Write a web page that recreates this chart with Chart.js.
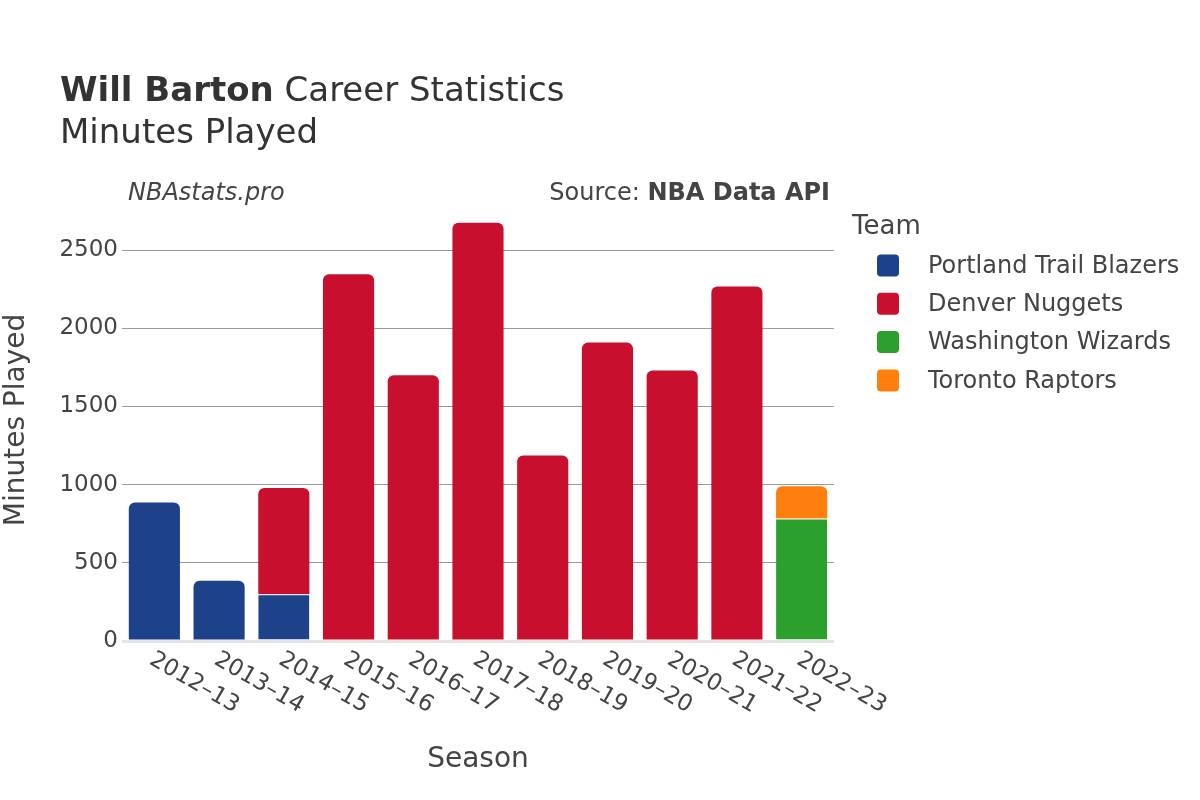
<!DOCTYPE html>
<html>
<head>
<meta charset="utf-8">
<script src="https://cdn.jsdelivr.net/npm/chart.js@4.4.1/dist/chart.umd.min.js"></script>
<style>
  html, body { margin: 0; padding: 0; background: #fff; }
  #wrap { width: 1200px; height: 800px; }
</style>
</head>
<body>
<div id="wrap"><canvas id="chart" width="1200" height="800"></canvas></div>
<script>
const seasons = ["2012–13", "2013–14", "2014–15", "2015–16", "2016–17", "2017–18",
  "2018–19", "2019–20", "2020–21", "2021–22", "2022–23"];
const portland = [886, 385, 299, null, null, null, null, null, null, null, null];
const denver = [null, null, 680, 2346, 1699, 2675, 1186, 1908, 1729, 2267, null];
const washington = [null, null, null, null, null, null, null, null, null, null, 784];
const toronto = [null, null, null, null, null, null, null, null, null, null, 205];
const teams = ["Portland Trail Blazers", "Denver Nuggets", "Washington Wizards", "Toronto Raptors"];
const teamColors = ["#1d428a", "#c8102e", "#2ca02c", "#ff7f0e"];
const yTicks = [0, 500, 1000, 1500, 2000, 2500];

const FONT = "'DejaVu Sans', sans-serif";
const TEXT = "#444";

// titles, source line, legend, rotated season labels
const decorations = {
  id: "decorations",
  afterDraw(chart) {
    const c = chart.ctx;
    const xs = chart.scales.x;
    c.save();
    c.fillStyle = "#333";
    c.textBaseline = "alphabetic";
    c.textAlign = "left";
    c.font = "bold 34px " + FONT;
    c.fillText("Will Barton", 60, 101);
    const w = c.measureText("Will Barton").width;
    c.font = "34px " + FONT;
    c.fillText(" Career Statistics", 60 + w, 101);
    c.fillText("Minutes Played", 60, 143);

    c.fillStyle = TEXT;
    c.font = "italic 24px " + FONT;
    c.fillText("NBAstats.pro", 128, 200);
    c.textAlign = "right";
    c.font = "bold 24px " + FONT;
    c.fillText("NBA Data API", 830, 200);
    const bw = c.measureText("NBA Data API").width;
    c.font = "24px " + FONT;
    c.fillText("Source: ", 830 - bw, 200);

    // axis titles
    c.textAlign = "center";
    c.textBaseline = "middle";
    c.font = "28px " + FONT;
    c.fillText("Season", 478, 760);
    c.save();
    c.translate(17, 420);
    c.rotate(-Math.PI / 2);
    c.fillText("Minutes Played", 0, 0);
    c.restore();

    // season labels
    c.font = "23px " + FONT;
    c.textAlign = "left";
    c.textBaseline = "top";
    seasons.forEach((s, i) => {
      const x = xs.getPixelForTick(i);
      c.save();
      c.translate(x + 6, 650);
      c.rotate(Math.PI / 6);
      c.fillText(s, -4, 0);
      c.restore();
    });

    // legend
    c.textAlign = "left";
    c.textBaseline = "middle";
    c.font = "26px " + FONT;
    c.fillText("Team", 852, 227);
    c.font = "24px " + FONT;
    teams.forEach((t, i) => {
      const y = 265.5 + i * 38.3;
      c.fillStyle = teamColors[i];
      c.beginPath();
      c.roundRect(877, y - 11, 22, 22, 4);
      c.fill();
      c.fillStyle = TEXT;
      c.fillText(t, 928, y + 1);
    });
    c.restore();
  }
};

const series = [portland, denver, washington, toronto];

// white separator only where another segment sits on top
function sepWidth(ctx) {
  const above = series.slice(ctx.datasetIndex + 1).some((s) => s[ctx.dataIndex] != null);
  return { top: above ? 1 : 0, left: 0, right: 0, bottom: 0 };
}

const datasets = series.map((d, i) => ({
  label: teams[i],
  data: d,
  backgroundColor: teamColors[i],
  borderColor: "#fff",
  borderWidth: sepWidth,
  borderRadius: 6,
  borderSkipped: "start",
  barPercentage: 0.79,
  categoryPercentage: 1.0
}));

new Chart(document.getElementById("chart"), {
  type: "bar",
  data: { labels: seasons, datasets: datasets },
  plugins: [decorations],
  options: {
    responsive: false,
    animation: false,
    events: [],
    layout: { padding: { left: 0, right: 366, top: 200, bottom: 159 } },
    plugins: {
      legend: { display: false },
      tooltip: { enabled: false }
    },
    scales: {
      x: {
        stacked: true,
        grid: { display: false },
        border: { display: false },
        ticks: { display: false },
        afterFit: (s) => { s.height = 0; }
      },
      y: {
        stacked: true,
        min: 0,
        max: 2820,
        afterFit: (s) => { s.width = 122; },
        afterBuildTicks: (s) => { s.ticks = yTicks.map((v) => ({ value: v })); },
        border: { display: false },
        grid: {
          drawTicks: false,
          color: (ctx) => (ctx.tick && ctx.tick.value === 0 ? "#e4e4e4" : "#9a9a9a"),
          lineWidth: (ctx) => (ctx.tick && ctx.tick.value === 0 ? 3 : 1)
        },
        ticks: {
          padding: 4,
          color: TEXT,
          font: { family: FONT, size: 23 },
          callback: (v) => String(v)
        }
      }
    }
  }
});
</script>
</body>
</html>
